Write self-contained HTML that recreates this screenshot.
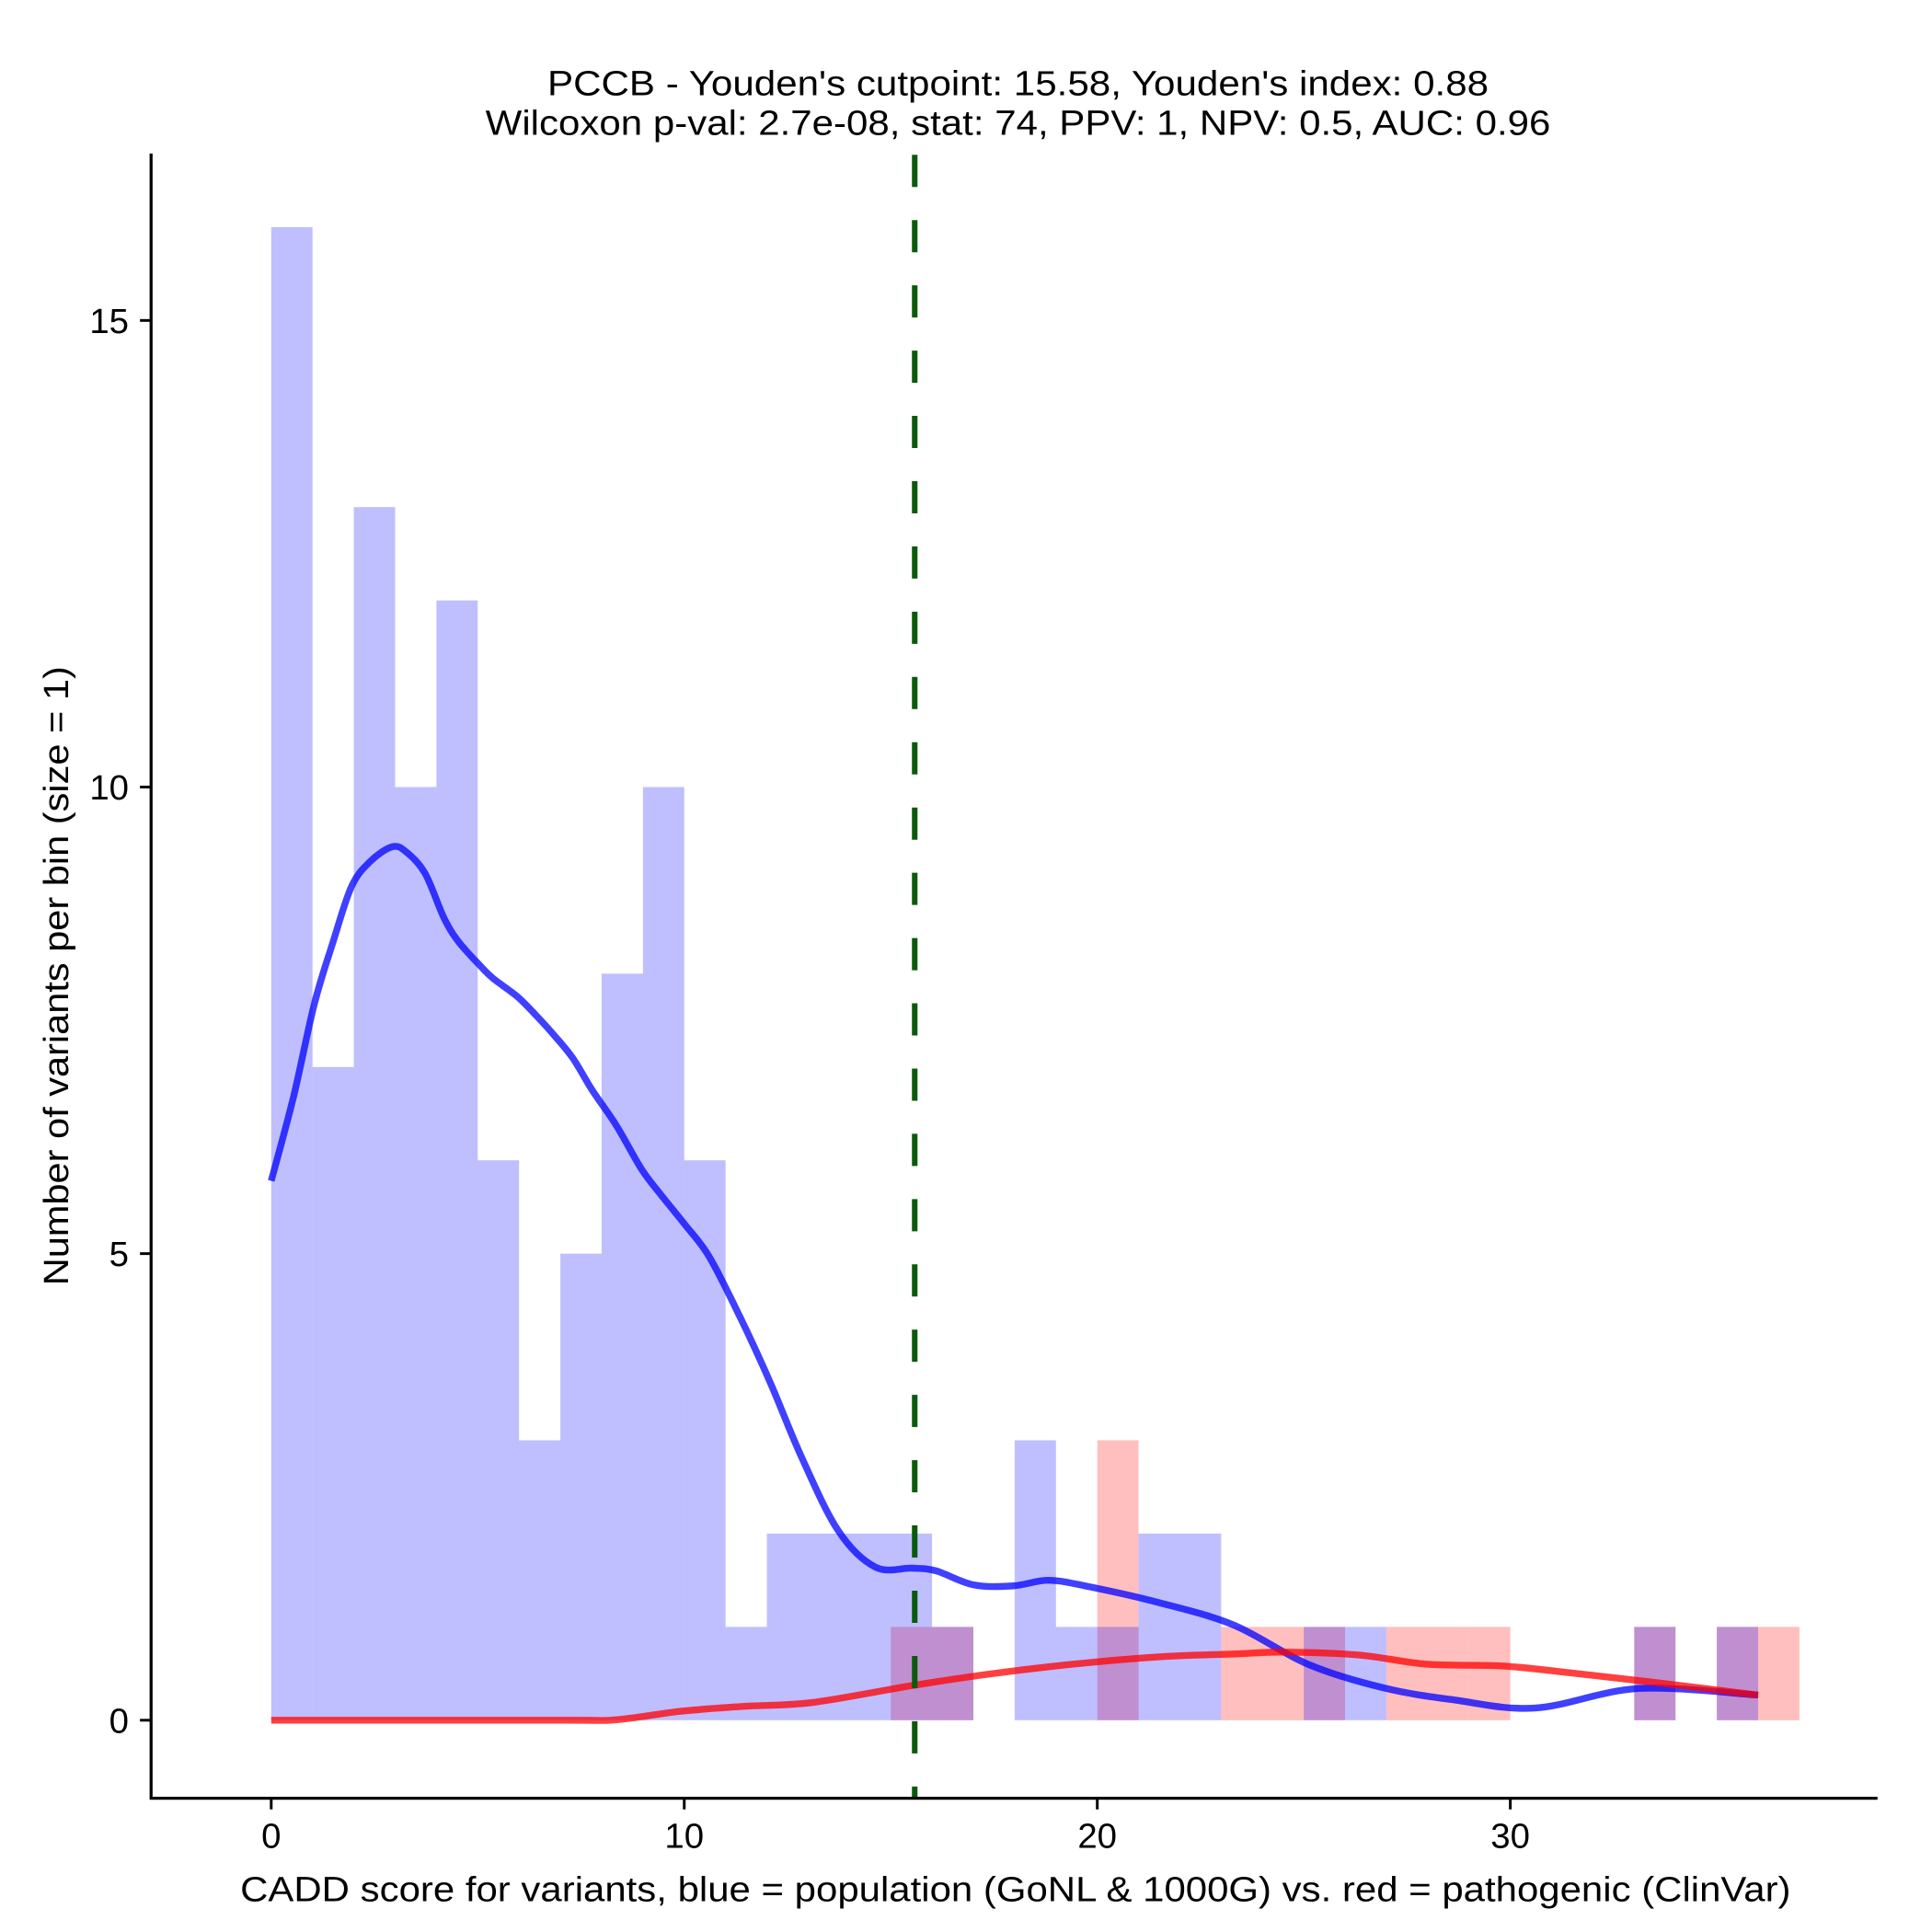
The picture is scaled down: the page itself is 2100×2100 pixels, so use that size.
<!DOCTYPE html>
<html><head><meta charset="utf-8"><style>
html,body{margin:0;padding:0;background:#fff;}
svg{display:block;}
text{font-family:"Liberation Sans",Arial,sans-serif;fill:#000;}
</style></head><body>
<svg id="chart" width="2100" height="2100" viewBox="0 0 1560 1560" xmlns="http://www.w3.org/2000/svg">
<g id="bars"></g>
<g id="lines"></g>
<g id="axes"></g>
<text x="822" y="77" font-size="28.5" text-anchor="middle" textLength="760" lengthAdjust="spacingAndGlyphs">PCCB - Youden's cutpoint: 15.58, Youden's index: 0.88</text>
<text x="822" y="109" font-size="28.5" text-anchor="middle" textLength="860" lengthAdjust="spacingAndGlyphs">Wilcoxon p-val: 2.7e-08, stat: 74, PPV: 1, NPV: 0.5, AUC: 0.96</text>
<text x="820" y="1535" font-size="28.5" text-anchor="middle" textLength="1252" lengthAdjust="spacingAndGlyphs">CADD score for variants, blue = population (GoNL &amp; 1000G) vs. red = pathogenic (ClinVar)</text>
<text x="0" y="0" font-size="28.5" text-anchor="middle" textLength="500" lengthAdjust="spacingAndGlyphs" transform="translate(55,788) rotate(-90)">Number of variants per bin (size = 1)</text>
</svg>
<script>
const blueBins = [0,1,2,3,4,5,6,7,8,9,10,11,12,13,14,15,16,18,19,20,21,22,25,26,33,35];
const blueCounts = [16,7,13,10,12,6,3,5,8,10,6,1,2,2,2,2,1,3,1,1,2,2,1,1,1,1];
const redBins = [15,16,20,23,24,25,27,28,29,33,35,36];
const redCounts = [1,1,3,1,1,1,1,1,1,1,1,1];
const blueDensX = [0,0.54,1.04,1.49,1.94,2.39,2.93,3.28,3.73,4.18,4.54,5.07,5.37,5.97,6.42,6.87,7.31,7.76,8.36,8.96,9.4,10,10.6,11.34,12.09,12.84,13.73,14.63,15.52,16.1,17.0,17.97,18.8,19.7,21.5,23.3,25.1,26.9,28.6,30.6,33.1,36];
const blueDensY = [5.78,6.68,7.67,8.33,8.93,9.2,9.36,9.3,9.07,8.6,8.34,8.08,7.95,7.75,7.55,7.33,7.09,6.76,6.37,5.91,5.65,5.32,4.97,4.33,3.61,2.82,2.03,1.64,1.63,1.6,1.45,1.44,1.5,1.44,1.26,1.02,0.6,0.35,0.22,0.13,0.34,0.27];
const redDensX = [0,7,8.2,9,10,11.5,13.1,15.5,17.3,19.4,21.5,23.3,24.5,26.3,28,29.85,31.6,33.4,36];
const redDensY = [0,0,0,0.04,0.1,0.15,0.19,0.37,0.49,0.6,0.68,0.71,0.73,0.70,0.6,0.58,0.5,0.41,0.27];
const xTicks = [0,10,20,30];
const yTicks = [0,5,10,15];
const cutpoint = 15.58;

const NS = "http://www.w3.org/2000/svg";
const xs = v => 219 + v * 33.35;
const ys = v => 1389 - v * 75.35;
function mk(tag, attrs, parent){const e=document.createElementNS(NS,tag);for(const k in attrs)e.setAttribute(k,attrs[k]);parent.appendChild(e);return e;}
const bars=document.getElementById('bars'), lines=document.getElementById('lines'), axes=document.getElementById('axes');

redBins.forEach((b,i)=>{
  const r=mk('rect',{x:xs(b),y:ys(redCounts[i]),width:xs(b+1)-xs(b),height:ys(0)-ys(redCounts[i]),fill:'rgba(255,0,0,0.25)'},bars);
  
  
});
blueBins.forEach((b,i)=>{
  const r=mk('rect',{x:xs(b),y:ys(blueCounts[i]),width:xs(b+1)-xs(b),height:ys(0)-ys(blueCounts[i]),fill:'rgba(0,0,255,0.25)'},bars);
  
  
});
function pathOf(X,Y){
  const P=X.map((x,i)=>[xs(x),ys(Y[i])]);
  let d='M'+P[0][0].toFixed(1)+','+P[0][1].toFixed(1);
  for(let i=0;i<P.length-1;i++){
    const p0=P[Math.max(0,i-1)],p1=P[i],p2=P[i+1],p3=P[Math.min(P.length-1,i+2)];
    const c1=[p1[0]+(p2[0]-p0[0])/6,p1[1]+(p2[1]-p0[1])/6];
    const c2=[p2[0]-(p3[0]-p1[0])/6,p2[1]-(p3[1]-p1[1])/6];
    d+=' C'+c1.map(v=>v.toFixed(1)).join(',')+' '+c2.map(v=>v.toFixed(1)).join(',')+' '+p2.map(v=>v.toFixed(1)).join(',');
  }
  return d;
}
const bl=mk('path',{d:pathOf(blueDensX,blueDensY),fill:'none',stroke:'rgba(0,0,255,0.75)','stroke-width':5.5,'stroke-linejoin':'round','stroke-linecap':'butt'},lines);


const rl=mk('path',{d:pathOf(redDensX,redDensY),fill:'none',stroke:'rgba(255,0,0,0.75)','stroke-width':5.5,'stroke-linejoin':'round','stroke-linecap':'butt'},lines);


const cl=mk('line',{x1:xs(cutpoint),x2:xs(cutpoint),y1:125,y2:1452,stroke:'#0b5a0b','stroke-width':4.5,'stroke-dasharray':'26,26.7'},lines);



const ya=mk('line',{x1:122,x2:122,y1:124,y2:1453,stroke:'#000','stroke-width':2.4},axes);


const xa=mk('line',{x1:121,x2:1516,y1:1452,y2:1452,stroke:'#000','stroke-width':2.4},axes);


xTicks.forEach(t=>{
  const l=mk('line',{x1:xs(t),x2:xs(t),y1:1452,y2:1461,stroke:'#000','stroke-width':2.2},axes);
  
  
  const tx=mk('text',{x:xs(t),y:1492,'font-size':28.5,'text-anchor':'middle'},axes);
  tx.textContent=t;
  
  
});
yTicks.forEach(t=>{
  const l=mk('line',{x1:113,x2:122,y1:ys(t),y2:ys(t),stroke:'#000','stroke-width':2.2},axes);
  
  
  const tx=mk('text',{x:104,y:ys(t)+10,'font-size':28.5,'text-anchor':'end'},axes);
  tx.textContent=t;
  
  
});
</script>
</body></html>
